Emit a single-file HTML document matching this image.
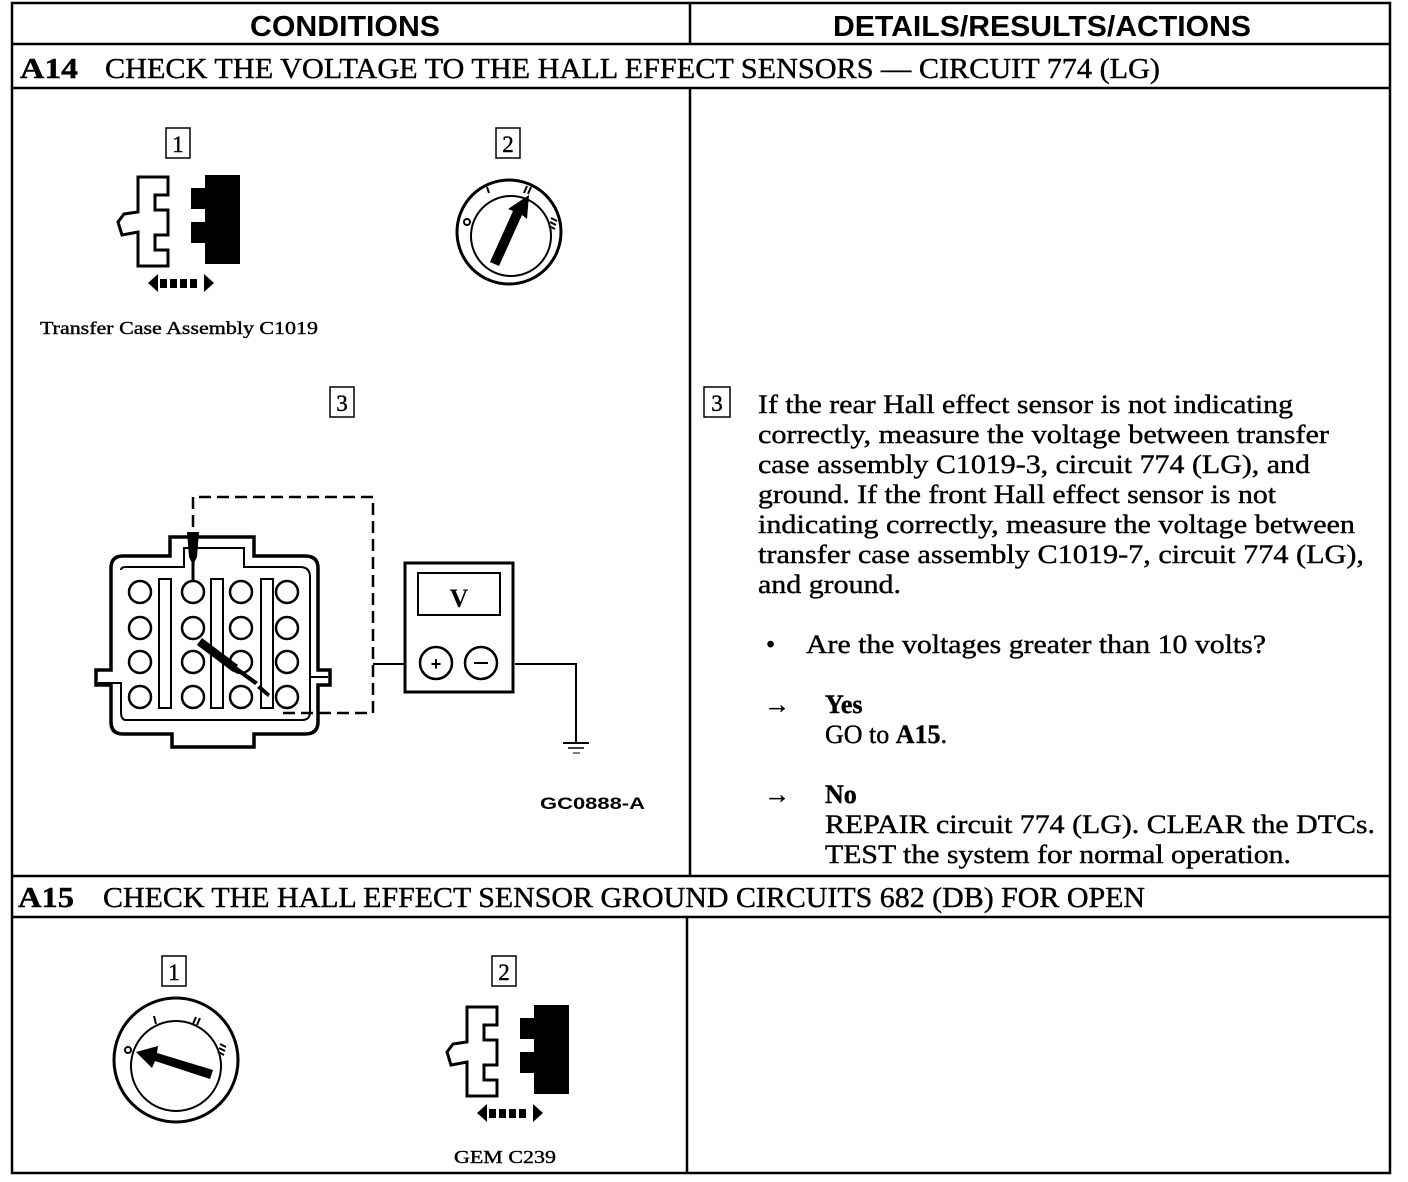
<!DOCTYPE html>
<html><head><meta charset="utf-8"><style>
html,body{margin:0;padding:0;background:#fff;}
svg{display:block;}
.s{font-family:"Liberation Serif",serif;fill:#000;stroke:#000;stroke-width:0.4;}
.h{font-family:"Liberation Sans",sans-serif;font-weight:bold;fill:#000;}
</style></head><body>
<svg width="1408" height="1182" viewBox="0 0 1408 1182" xmlns="http://www.w3.org/2000/svg">
<g stroke="#000" fill="none" stroke-width="2.5">
<rect x="12" y="3" width="1378" height="1170"/>
<line x1="12" y1="44" x2="1390" y2="44"/>
<line x1="12" y1="88" x2="1390" y2="88"/>
<line x1="12" y1="876" x2="1390" y2="876"/>
<line x1="12" y1="917" x2="1390" y2="917"/>
<line x1="690" y1="3" x2="690" y2="44"/>
<line x1="690" y1="88" x2="690" y2="876"/>
<line x1="687" y1="917" x2="687" y2="1173"/>
</g>
<text class="h" x="345" y="36" font-size="29" text-anchor="middle" textLength="190" lengthAdjust="spacingAndGlyphs">CONDITIONS</text>
<text class="h" x="1042" y="36" font-size="29" text-anchor="middle" textLength="418" lengthAdjust="spacingAndGlyphs">DETAILS/RESULTS/ACTIONS</text>
<text class="s" x="20" y="78" font-size="28" font-weight="bold" textLength="58" lengthAdjust="spacingAndGlyphs">A14</text>
<text class="s" x="105" y="78" font-size="28" textLength="1055" lengthAdjust="spacingAndGlyphs">CHECK THE VOLTAGE TO THE HALL EFFECT SENSORS — CIRCUIT 774 (LG)</text>
<text class="s" x="18" y="907" font-size="28" font-weight="bold" textLength="56" lengthAdjust="spacingAndGlyphs">A15</text>
<text class="s" x="103" y="907" font-size="28" textLength="1042" lengthAdjust="spacingAndGlyphs">CHECK THE HALL EFFECT SENSOR GROUND CIRCUITS 682 (DB) FOR OPEN</text>

<g stroke="#000" fill="none" stroke-width="1.5">
<rect x="166" y="128" width="24" height="30"/>
<rect x="496" y="128" width="24" height="30"/>
<rect x="330" y="387" width="24" height="30"/>
<rect x="704" y="387" width="26" height="30"/>
<rect x="162" y="956" width="24" height="30"/>
<rect x="492" y="956" width="24" height="30"/>
</g>
<g class="s" font-size="23" text-anchor="middle">
<text x="178" y="152">1</text><text x="508" y="152">2</text><text x="342" y="411">3</text><text x="717" y="411">3</text>
<text x="174" y="980">1</text><text x="504" y="980">2</text>
</g>

<g id="conn">
<path d="M138 177 H168 V195 H155 V210 H168 V235 H155 V250 H168 V266 H138 V232 L122 235 L118 222 L124 214 L138 212 Z" fill="#fff" stroke="#000" stroke-width="3"/>
<path d="M205 175 H240 V264 H205 V243 H191 V222 H205 V209 H191 V188 H205 Z" fill="#000"/>
<path d="M148 283 L158 274 V292 Z M214 283 L204 274 V292 Z" fill="#000"/>
<g fill="#000"><rect x="160" y="279" width="7" height="9"/><rect x="170" y="279" width="7" height="9"/><rect x="180" y="279" width="7" height="9"/><rect x="190" y="279" width="7" height="9"/></g>
</g>
<text class="s" x="40" y="334" font-size="18" textLength="278" lengthAdjust="spacingAndGlyphs">Transfer Case Assembly C1019</text>

<g stroke="#000" fill="none">
<circle cx="509" cy="232" r="52" stroke-width="3"/>
<circle cx="511" cy="236" r="40" stroke-width="2"/>
<line x1="487" y1="187" x2="489" y2="193" stroke-width="2"/>
<line x1="527" y1="186" x2="524" y2="193" stroke-width="2"/>
<line x1="531" y1="187" x2="528" y2="194" stroke-width="2"/>
<circle cx="467" cy="222" r="3" stroke-width="2"/>
<line x1="551" y1="218" x2="557" y2="221" stroke-width="2"/>
<line x1="550" y1="222" x2="556" y2="225" stroke-width="2"/>
<line x1="549" y1="226" x2="555" y2="229" stroke-width="2"/>
</g>
<path d="M490 262 L513 211 L508 209 L529 195 L527 219 L522 215 L499 266 Z" fill="#000"/>

<g stroke="#000" fill="none">
<circle cx="176" cy="1060" r="62" stroke-width="3"/>
<circle cx="176" cy="1066" r="45" stroke-width="2"/>
<line x1="154" y1="1016" x2="156" y2="1024" stroke-width="2"/>
<line x1="196" y1="1017" x2="193" y2="1024" stroke-width="2"/>
<line x1="200" y1="1018" x2="197" y2="1025" stroke-width="2"/>
<circle cx="128" cy="1050" r="3" stroke-width="2"/>
<line x1="220" y1="1044" x2="226" y2="1047" stroke-width="2"/>
<line x1="219" y1="1048" x2="225" y2="1051" stroke-width="2"/>
<line x1="218" y1="1052" x2="224" y2="1055" stroke-width="2"/>
</g>
<path d="M136 1052 L158 1046 L157 1053 L213 1070 L210 1079 L155 1061 L152 1068 Z" fill="#000"/>

<use href="#conn" transform="translate(329,830)"/>
<text class="s" x="454" y="1163" font-size="18" textLength="102" lengthAdjust="spacingAndGlyphs">GEM C239</text>

<g stroke="#000" fill="none">
<path d="M170 537 V556 H123 Q111 556 111 568 V670 H96 V685 H111 V722 Q111 734 123 734 H172 V747 H254 V734 H305 Q318 734 318 722 V685 H330 V670 H318 V568 Q318 556 305 556 H254 V537 Z" stroke-width="3.5"/>
<path d="M121 570 Q121 567 126 567 H184 V548 H244 V567 H300 Q310 567 310 577 V677 H328 M310 677 V712 Q310 720 302 720 H126 Q121 720 121 712 V683 H98" stroke-width="2"/>
<rect x="159" y="579" width="12" height="129" stroke-width="2"/>
<rect x="211" y="579" width="12" height="129" stroke-width="2"/>
<rect x="261" y="579" width="12" height="129" stroke-width="2"/>
<g stroke-width="2.5">
<circle cx="140" cy="592" r="11"/><circle cx="140" cy="628" r="11"/><circle cx="140" cy="662" r="11"/><circle cx="140" cy="697" r="11"/>
<circle cx="193" cy="592" r="11"/><circle cx="193" cy="628" r="11"/><circle cx="193" cy="662" r="11"/><circle cx="193" cy="697" r="11"/>
<circle cx="241" cy="592" r="11"/><circle cx="241" cy="628" r="11"/><circle cx="241" cy="662" r="11"/><circle cx="241" cy="697" r="11"/>
<circle cx="287" cy="592" r="11"/><circle cx="287" cy="628" r="11"/><circle cx="287" cy="662" r="11"/><circle cx="287" cy="697" r="11"/>
</g>
<path d="M193 580 V560" stroke-width="3"/>
<path d="M193 545 V497 H373 V713 H283" stroke-width="2.5" stroke-dasharray="12,6"/>
<path d="M373 664 H405 M515 664 H576 V742" stroke-width="2"/>
<line x1="563" y1="743" x2="589" y2="743" stroke-width="2"/>
<line x1="568" y1="748" x2="584" y2="748" stroke-width="1.5"/>
<line x1="573" y1="753" x2="580" y2="753" stroke-width="1"/>
<rect x="405" y="563" width="108" height="129" stroke-width="3"/>
<rect x="418" y="573" width="82" height="42" stroke-width="2"/>
<circle cx="436" cy="663" r="16" stroke-width="2.5"/>
<circle cx="481" cy="663" r="16" stroke-width="2.5"/>
</g>
<path d="M187 532 H199 L197 557 L193 565 L189 557 Z" fill="#000"/>
<path d="M202 638 L238 665 L233 672 L197 645 Z M236 666 L258 682 L255 685 L233 669 Z M260 685 L270 694 L268 697 L257 688 Z" fill="#000"/>
<text x="459" y="607" font-size="26" text-anchor="middle" font-weight="bold" style="font-family:'Liberation Serif',serif">V</text>
<text class="h" x="436" y="670" font-size="18" text-anchor="middle">+</text>
<line x1="474" y1="663" x2="488" y2="663" stroke="#000" stroke-width="2"/>
<text class="h" x="540" y="809" font-size="17" textLength="105" lengthAdjust="spacingAndGlyphs">GC0888-A</text>

<g class="s" font-size="26">
<text x="758" y="413" textLength="535" lengthAdjust="spacingAndGlyphs">If the rear Hall effect sensor is not indicating</text>
<text x="758" y="443" textLength="571" lengthAdjust="spacingAndGlyphs">correctly, measure the voltage between transfer</text>
<text x="758" y="473" textLength="552" lengthAdjust="spacingAndGlyphs">case assembly C1019-3, circuit 774 (LG), and</text>
<text x="758" y="503" textLength="518" lengthAdjust="spacingAndGlyphs">ground. If the front Hall effect sensor is not</text>
<text x="758" y="533" textLength="597" lengthAdjust="spacingAndGlyphs">indicating correctly, measure the voltage between</text>
<text x="758" y="563" textLength="606" lengthAdjust="spacingAndGlyphs">transfer  case assembly C1019-7, circuit 774 (LG),</text>
<text x="758" y="593" textLength="143" lengthAdjust="spacingAndGlyphs">and ground.</text>
<text x="766" y="653">•</text>
<text x="806" y="653" textLength="460" lengthAdjust="spacingAndGlyphs">Are the voltages greater than 10 volts?</text>
<text x="764" y="713">→</text>
<text x="825" y="713" font-weight="bold">Yes</text>
<text x="825" y="743">GO to <tspan font-weight="bold">A15</tspan>.</text>
<text x="764" y="803">→</text>
<text x="825" y="803" font-weight="bold">No</text>
<text x="825" y="833" textLength="550" lengthAdjust="spacingAndGlyphs">REPAIR circuit 774 (LG). CLEAR the DTCs.</text>
<text x="825" y="863" textLength="466" lengthAdjust="spacingAndGlyphs">TEST the system for normal operation.</text>
</g>
</svg>
</body></html>
